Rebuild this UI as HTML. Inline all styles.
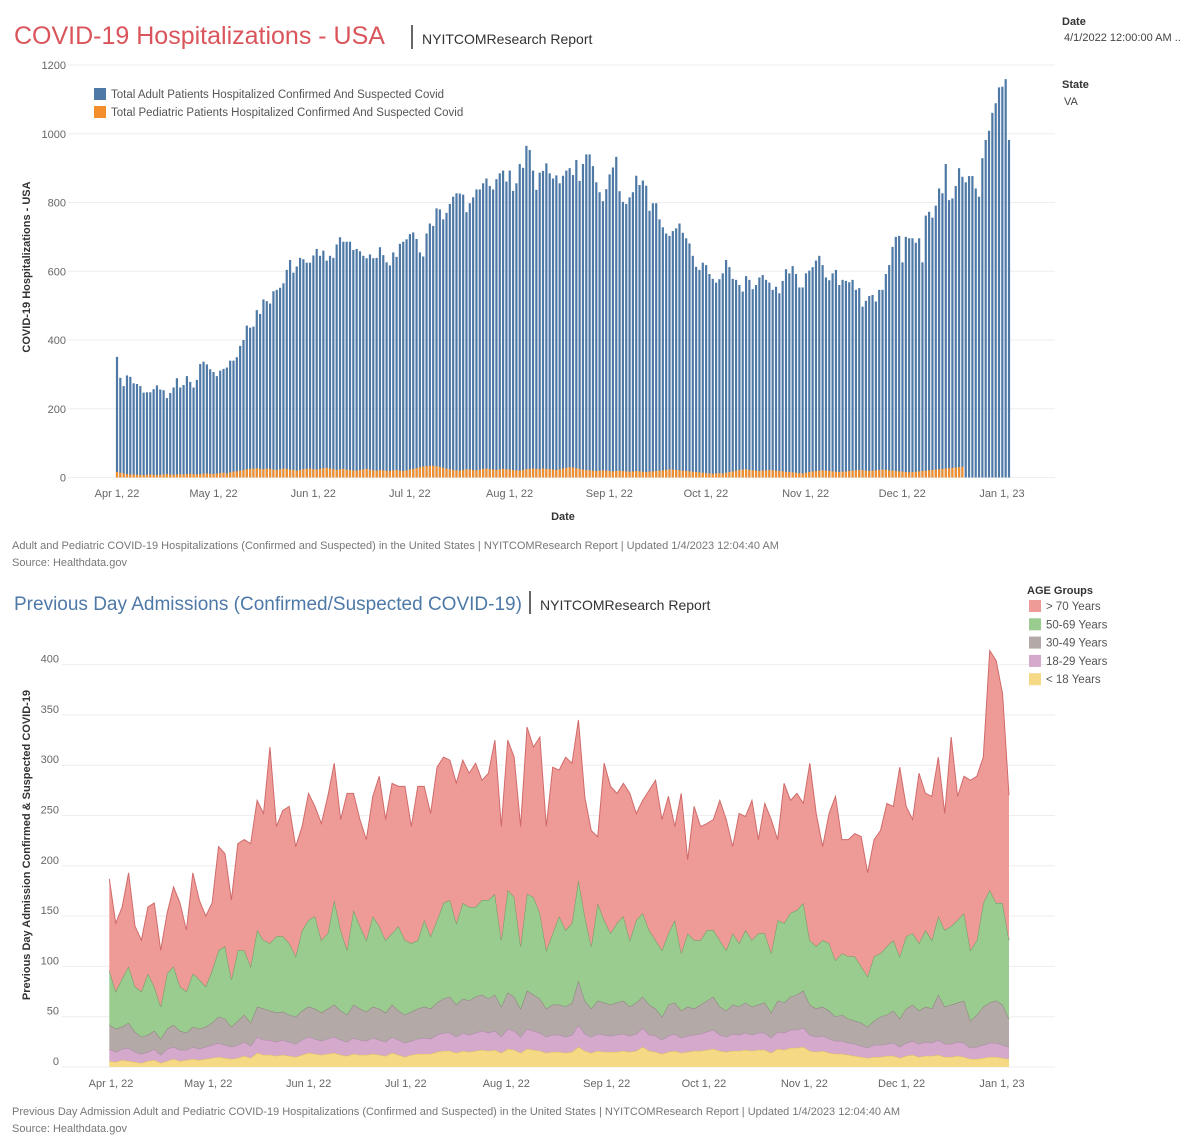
<!DOCTYPE html>
<html><head><meta charset="utf-8"><style>
body{margin:0;background:#fff;font-family:"Liberation Sans",sans-serif;}
svg{display:block}
text{font-family:"Liberation Sans",sans-serif}
</style></head><body>
<svg id="svg" width="1200" height="1145" viewBox="0 0 1200 1145" xmlns="http://www.w3.org/2000/svg">
<text x="14" y="44" font-size="25" fill="#d9555b">COVID-19 Hospitalizations - USA</text>
<line x1="412" y1="25" x2="412" y2="49" stroke="#333" stroke-width="1.5"/>
<text x="422" y="44" font-size="14" fill="#333">NYITCOMResearch Report</text>
<text x="1062" y="25" font-size="11" font-weight="bold" fill="#333">Date</text>
<text x="1064" y="41" font-size="11" fill="#444">4/1/2022 12:00:00 AM ..</text>
<text x="1062" y="88" font-size="11" font-weight="bold" fill="#333">State</text>
<text x="1064" y="105" font-size="11" fill="#444">VA</text>
<g id="topchart"></g>
<text x="12" y="549" font-size="11" fill="#777">Adult and Pediatric COVID-19 Hospitalizations (Confirmed and Suspected) in the United States | NYITCOMResearch Report | Updated 1/4/2023 12:04:40 AM</text>
<text x="12" y="566" font-size="11" fill="#777">Source: Healthdata.gov</text>
<text x="14" y="610" font-size="19" fill="#4e79a7">Previous Day Admissions (Confirmed/Suspected COVID-19)</text>
<line x1="530" y1="591" x2="530" y2="614" stroke="#333" stroke-width="1.5"/>
<text x="540" y="610" font-size="14" fill="#333">NYITCOMResearch Report</text>
<g id="botchart"></g>
<text x="12" y="1115" font-size="11" fill="#777">Previous Day Admission Adult and Pediatric COVID-19 Hospitalizations (Confirmed and Suspected) in the United States | NYITCOMResearch Report | Updated 1/4/2023 12:04:40 AM</text>
<text x="12" y="1132" font-size="11" fill="#777">Source: Healthdata.gov</text>
</svg>
<script>
// ---------- top chart data ----------
const adultValues=[351,290,266,297,293,274,272,266,247,248,248,257,268,256,254,231,246,262,289,262,269,295,278,262,284,330,337,329,315,307,295,311,316,320,340,340,350,383,400,442,436,439,487,476,518,513,506,542,546,552,565,604,633,596,614,639,635,625,625,646,665,645,660,631,645,639,678,699,686,686,686,662,665,658,645,638,649,638,639,670,647,626,617,655,642,680,686,693,708,713,694,655,643,
710,739,732,783,780,751,770,796,817,827,826,823,772,798,815,838,838,856,870,848,838,868,885,893,861,893,834,856,912,901,965,953,893,837,887,892,914,885,870,879,856,878,893,900,880,924,863,912,940,940,906,859,830,804,839,882,902,933,833,802,796,815,830,878,851,864,849,776,798,798,751,728,710,703,717,725,739,712,696,681,645,613,604,625,618,592,578,567,577,594,633,612,578,575,560,
541,586,575,548,560,582,589,575,567,546,555,536,572,606,594,615,592,553,553,594,602,612,631,645,618,582,574,594,604,560,575,572,568,575,546,551,497,514,528,531,512,546,546,592,618,671,700,703,626,700,696,696,683,696,626,762,773,756,791,841,827,912,807,812,848,900,875,859,877,877,841,817,929,982,1009,1061,1089,1135,1137,1159,982];
const pediatricValues=[16,14,12,10,9,9,8,8,7,8,9,8,7,8,9,10,9,8,9,10,9,10,11,10,9,10,11,12,11,10,12,13,14,12,15,17,18,20,22,24,25,26,27,25,24,26,25,23,22,24,26,25,23,22,20,22,24,25,26,24,23,25,27,28,26,24,22,24,25,23,22,21,20,22,24,25,23,21,20,22,21,20,19,21,22,20,19,21,23,25,27,30,32,33,34,34,33,31,28,26,24,22,21,20,22,24,23,22,21,23,25,26,24,23,22,24,25,24,23,22,21,20,22,24,25,26,25,24,26,25,24,23,22,24,26,28,30,29,27,25,23,22,21,20,19,20,21,20,19,18,19,20,19,18,17,18,19,18,17,16,17,18,19,20,21,22,24,23,22,21,20,19,18,17,16,15,14,13,12,11,12,13,12,14,16,18,20,22,23,24,22,21,20,19,20,21,22,21,20,19,18,17,16,15,14,13,12,14,16,18,19,20,21,20,19,18,17,16,17,18,19,20,21,22,21,20,19,20,21,22,23,22,21,20,19,18,17,16,15,16,17,18,19,20,21,22,23,24,25,26,27,28,29,30,31];
const topTickLabels=["Apr 1, 22","May 1, 22","Jun 1, 22","Jul 1, 22","Aug 1, 22","Sep 1, 22","Oct 1, 22","Nov 1, 22","Dec 1, 22","Jan 1, 23"];
const tickDays=[0,30,61,91,122,153,183,214,244,275];
const topYTicks=[0,200,400,600,800,1000,1200];
// ---------- bottom chart data ----------
const ageGroups=["> 70 Years","50-69 Years","30-49 Years","18-29 Years","< 18 Years"];
const under18=[6,5,7,6,5,4,6,7,4,6, 8,6,7,8,7,8,9,10,9,8, 9,11,9,14,12,12,11,12,11,10, 12,14,13,12,13,14,12,11,13,12, 12,13,12,11,14,12,10,12,13,13, 13,15,16,16,14,16,15,16,17,16, 17,14,18,17,14,18,17,16,14,15, 15,14,15,20,16,14,16,15,15,15, 16,15,16,20,16,15,13,15,16,14, 15,16,16,17,18,16,15,16,16,17, 16,17,17,14,18,17,19,19,20,16, 15,16,14,13,13,12,11,10,9,10, 10,11,11,9,11,12,10,11,11,12, 10,10,11,10,8,8,9,10,10,9,8];
const age18to29=[12,10,11,13,10,9,9,11,8,12, 12,11,10,12,11,12,13,14,13,12, 13,14,12,16,15,15,14,15,14,13, 15,16,15,14,15,16,15,14,16,15, 14,16,15,14,16,15,14,14,15,16, 15,17,18,18,16,18,17,18,19,18, 19,16,20,19,16,20,19,18,16,17, 17,16,17,22,17,16,17,17,16,17, 17,16,17,19,16,16,14,16,17,15, 16,16,17,18,19,16,15,17,16,17, 16,17,17,15,17,17,18,18,19,16, 15,15,14,13,13,12,12,11,10,12, 12,12,13,11,13,14,13,14,13,15, 13,13,14,14,11,12,13,14,14,13,12];
const age30to49=[24,23,22,25,20,17,17,18,16,20, 22,19,17,20,20,20,22,26,26,20, 24,27,23,30,31,29,29,28,27,27, 29,30,30,28,30,32,29,27,33,31, 29,31,31,29,32,29,28,29,30,31, 30,32,34,36,32,34,34,36,36,34, 36,30,36,34,28,38,36,34,28,30, 30,30,32,44,33,28,33,32,31,32, 33,29,31,31,30,27,23,31,31,27, 29,26,29,31,33,28,26,29,28,30, 28,28,30,25,31,30,33,35,37,30, 28,29,28,24,26,24,23,23,21,24, 28,29,32,28,34,36,33,35,34,45, 37,39,39,42,27,32,38,40,42,40,28];
const age50to69=[54,37,48,56,45,45,61,44,32,55, 58,44,41,53,49,40,52,66,72,47, 70,64,56,76,68,67,76,75,71,60, 80,86,92,72,75,104,80,64,94,82, 71,90,82,72,71,84,74,68,68,86, 72,82,95,96,81,95,93,89,94,98, 100,66,102,99,62,96,97,85,58,71, 88,76,79,100,84,62,97,82,71,79, 84,66,82,83,74,68,66,71,82,57, 73,68,64,70,66,66,60,71,63,72, 66,71,69,59,80,79,83,84,87,64, 62,66,67,56,61,62,64,56,50,64, 63,68,70,62,72,71,67,76,68,78, 76,78,82,87,70,74,103,112,97,101,78];
const over70=[91,68,71,93,60,51,66,83,56,60, 79,83,61,100,79,70,67,103,92,79, 106,110,122,129,126,195,109,125,136,109, 103,126,109,116,136,136,110,156,116,106, 100,119,149,120,149,139,153,116,153,133, 122,152,145,139,139,142,133,143,119,126, 153,113,149,139,119,166,149,175,123,165, 145,172,159,159,118,115,66,156,146,129, 132,146,106,112,139,159,130,136,93,159, 73,133,113,106,110,139,130,86,129,113, 139,93,129,133,80,139,112,116,99,176, 132,93,129,163,113,116,122,129,103,116, 122,142,133,188,129,113,169,136,143,158, 116,188,123,136,169,163,145,238,241,208,144];
const botYTicks=[0,50,100,150,200,250,300,350,400];

const NS="http://www.w3.org/2000/svg";
function mk(parent,tag,attrs,text){const el=document.createElementNS(NS,tag);for(const k in attrs)el.setAttribute(k,attrs[k]);if(text!==undefined)el.textContent=text;parent.appendChild(el);return el;}

// ---------- top chart ----------
const topG=document.getElementById('topchart');
const tY=v=>477.5-v*0.3437;
const tXi=i=>117+i*(892/(adultValues.length-1));
const tXd=d=>117+d*3.218;
topYTicks.forEach(v=>{
  const l=mk(topG,'line',{x1:68,x2:1055,y1:tY(v),y2:tY(v),stroke:'#eeeeee','stroke-width':1});
  
  
  const t=mk(topG,'text',{x:66,y:tY(v)+4,'text-anchor':'end','font-size':11,fill:'#666'},String(v));
  
  
});
adultValues.forEach((v,i)=>{
  const x=tXi(i)-1.1;
  const b=mk(topG,'rect',{x:x,y:tY(v),width:2.2,height:tY(0)-tY(v),fill:'#4e79a7'});
  
  
  const p=pediatricValues[i]||0;
  const o=mk(topG,'rect',{x:x,y:tY(p),width:2.2,height:tY(0)-tY(p),fill:'#f28e2b'});
  
  
});
topTickLabels.forEach((s,i)=>{
  const t=mk(topG,'text',{x:tXd(tickDays[i]),y:497,'text-anchor':'middle','font-size':11,fill:'#666'},s);
  
  
});
let el;
el=mk(topG,'text',{x:563,y:520,'text-anchor':'middle','font-size':11,'font-weight':'bold',fill:'#333'},'Date');


el=mk(topG,'text',{x:0,y:0,transform:'translate(30,267) rotate(-90)','text-anchor':'middle','font-size':11,'font-weight':'bold',fill:'#333'},'COVID-19 Hospitalizations - USA');


[['#4e79a7','Total Adult Patients Hospitalized Confirmed And Suspected Covid'],['#f28e2b','Total Pediatric Patients Hospitalized Confirmed And Suspected Covid']].forEach((d,i)=>{
  const r=mk(topG,'rect',{x:94,y:88+i*18,width:12,height:12,fill:d[0]});
  
  
  const t=mk(topG,'text',{x:111,y:98+i*18,'font-size':11.5,fill:'#555'},d[1]);
  
  
});

// ---------- bottom chart ----------
const botG=document.getElementById('botchart');
const bY=v=>1067-v*1.006;
const bXi=i=>109.3+i*(899.7/(over70.length-1));
const bXd=d=>111+d*3.24;
botYTicks.forEach(v=>{
  const l=mk(botG,'line',{x1:62,x2:1055,y1:bY(v),y2:bY(v),stroke:'#eeeeee','stroke-width':1});
  
  
  const t=mk(botG,'text',{x:59,y:bY(v)-2,'text-anchor':'end','font-size':11,fill:'#666'},String(v));
  
  
});
const layers=[under18,age18to29,age30to49,age50to69,over70];
const fills=['#f5d985','#d4a9cb','#b3aaa7','#9acb8f','#ee9b98'];
const strokes=['#e0c060','#a88aa4','#8b817c','#6c9a60','#d06a6a'];
const names=['area-under-18','area-18-29','area-30-49','area-50-69','area-over-70'];
let base=over70.map(()=>0);
layers.forEach((arr,li)=>{
  const topv=arr.map((v,i)=>base[i]+v);
  let d='M'+bXi(0)+','+bY(topv[0]);
  for(let i=1;i<topv.length;i++)d+='L'+bXi(i).toFixed(2)+','+bY(topv[i]).toFixed(2);
  for(let i=topv.length-1;i>=0;i--)d+='L'+bXi(i).toFixed(2)+','+bY(base[i]).toFixed(2);
  d+='Z';
  const a=mk(botG,'path',{d:d,fill:fills[li],stroke:'none'});
  
  
  let ld='M'+bXi(0)+','+bY(topv[0]);
  for(let i=1;i<topv.length;i++)ld+='L'+bXi(i).toFixed(2)+','+bY(topv[i]).toFixed(2);
  const ln=mk(botG,'path',{d:ld,fill:'none',stroke:strokes[li],'stroke-width':1});
  
  
  base=topv;
});
topTickLabels.forEach((s,i)=>{
  const t=mk(botG,'text',{x:bXd(tickDays[i]),y:1087,'text-anchor':'middle','font-size':11,fill:'#666'},s);
  
  
});
el=mk(botG,'text',{x:0,y:0,transform:'translate(30,845) rotate(-90)','text-anchor':'middle','font-size':11,'font-weight':'bold',fill:'#333'},'Previous Day Admission Confirmed & Suspected COVID-19');


el=mk(botG,'text',{x:1027,y:594,'font-size':11,'font-weight':'bold',fill:'#333'},'AGE Groups');


const legFills=['#ee9b98','#9acb8f','#b3aaa7','#d4a9cb','#f5d985'];
ageGroups.forEach((g,i)=>{
  const r=mk(botG,'rect',{x:1029,y:600+i*18.3,width:12,height:12,fill:legFills[i]});
  
  
  const t=mk(botG,'text',{x:1046,y:610+i*18.3,'font-size':11.5,fill:'#555'},g);
  
  
});
</script>
</body></html>
